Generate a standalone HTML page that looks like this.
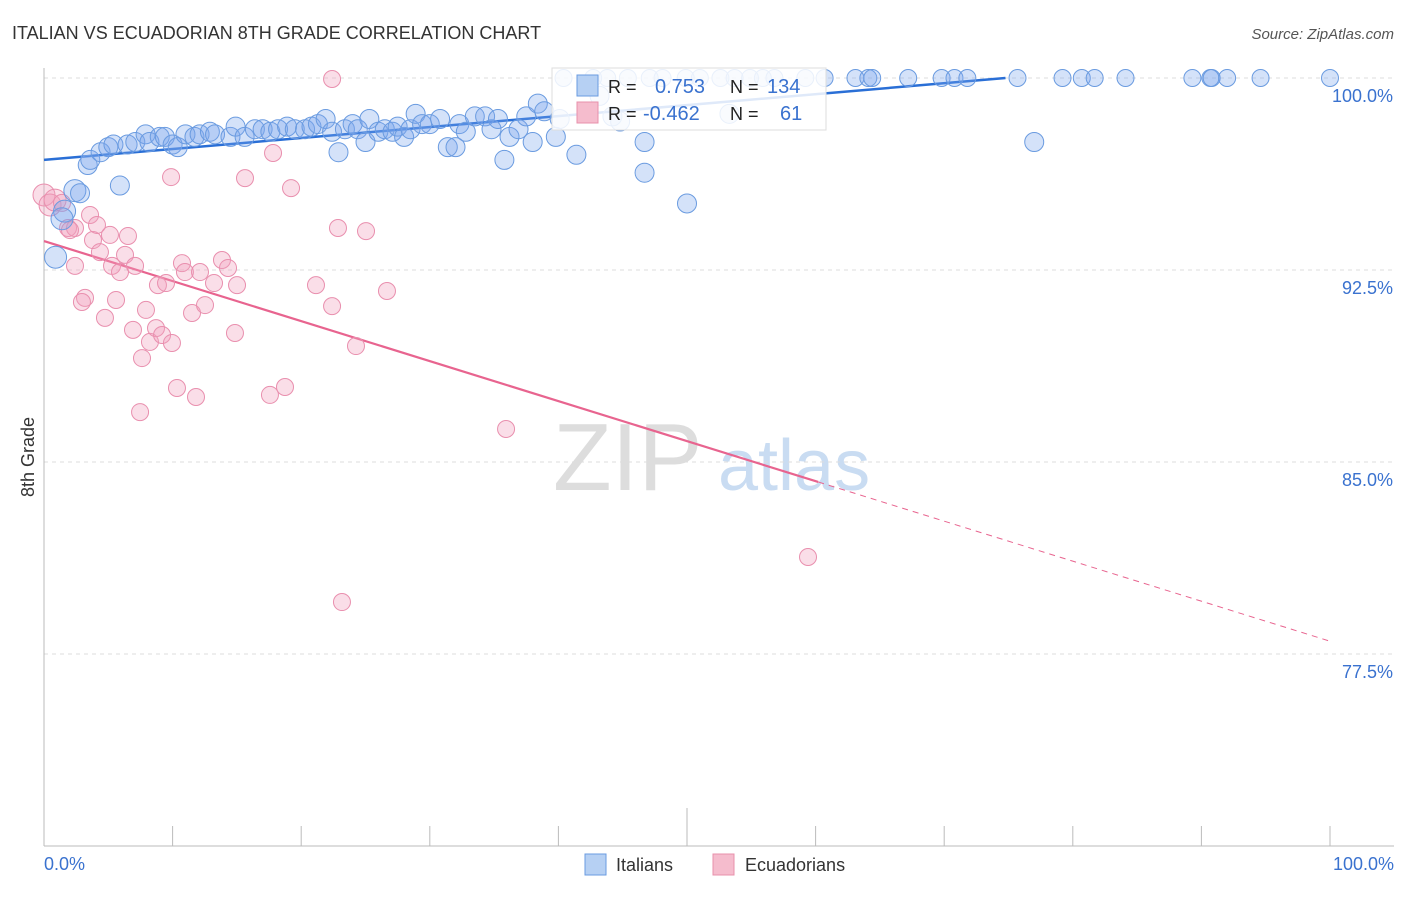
<!DOCTYPE html>
<html><head><meta charset="utf-8"><style>
body{margin:0;background:#fff;font-family:"Liberation Sans",sans-serif;}
svg text{font-family:"Liberation Sans",sans-serif;}
</style></head><body>
<svg id="c" width="1406" height="892">
<text x="12" y="39" font-size="18" fill="#333">ITALIAN VS ECUADORIAN 8TH GRADE CORRELATION CHART</text>
<text x="1394" y="39" font-size="15" fill="#555" text-anchor="end" font-style="italic">Source: ZipAtlas.com</text>
<text x="0" y="0" transform="translate(34,457) rotate(-90)" font-size="18" fill="#333" text-anchor="middle">8th Grade</text>
<g><text x="553" y="490" font-size="96" fill="#ddd" font-family="Liberation Serif,serif">ZIP</text><text x="718" y="490" font-size="72" fill="#c9dcf2">atlas</text></g>
<g id="grid"></g><g id="axes"></g><g id="trend"></g><g id="pts"></g>
<g>
<rect x="552" y="68" width="274" height="62" fill="#fff" fill-opacity="0.85" stroke="#ddd"/>
<rect x="577" y="75" width="21" height="21" fill="#b6d0f3" stroke="#6a9be0"/>
<rect x="577" y="102" width="21" height="21" fill="#f5bccd" stroke="#e890ab"/>
<text x="608" y="93" font-size="18" fill="#222">R =</text><text x="655" y="93" font-size="20" fill="#3a72cf">0.753</text>
<text x="730" y="93" font-size="18" fill="#222">N =</text><text x="767" y="93" font-size="20" fill="#3a72cf">134</text>
<text x="608" y="120" font-size="18" fill="#222">R =</text><text x="643" y="120" font-size="20" fill="#3a72cf">-0.462</text>
<text x="730" y="120" font-size="18" fill="#222">N =</text><text x="780" y="120" font-size="20" fill="#3a72cf">61</text>
</g>
<g><rect x="585" y="854" width="21" height="21" fill="#b6d0f3" stroke="#6a9be0"/><text x="616" y="871" font-size="18" fill="#333">Italians</text></g>
<g><rect x="713" y="854" width="21" height="21" fill="#f5bccd" stroke="#e890ab"/><text x="745" y="871" font-size="18" fill="#333">Ecuadorians</text></g>
</svg>
<script>
const blueX=[0.9,1.6,1.4,2.4,2.8,3.4,3.6,4.4,5.0,5.4,5.9,6.5,7.1,7.9,8.2,9.0,9.4,10.0,10.4,11.0,11.7,12.1,12.9,13.3,14.5,14.9,15.6,16.4,17.0,17.6,18.2,18.9,19.5,20.3,20.8,21.3,21.9,22.4,22.9,23.4,24.0,24.4,25.0,25.3,26.0,26.5,27.1,27.5,28.0,28.5,28.9,29.4,30.0,30.8,31.4,32.0,32.3,32.8,33.5,34.3,34.8,35.3,35.8,36.2,36.9,37.5,38.0,38.4,38.9,39.8,41.4,43.2,44.2,44.8,40.1,46.7,46.7,50.0,53.3,77.0,40.4,42.7,43.8,45.4,47.1,48.1,49.9,51.0,52.6,53.7,54.9,55.9,56.8,59.2,60.7,63.1,64.1,64.4,67.2,69.8,70.8,71.8,75.7,79.2,80.7,81.7,84.1,89.3,90.7,90.8,92.0,94.6,100];
const blueY=[93.0,94.8,94.5,95.6,95.5,96.6,96.8,97.1,97.3,97.4,95.8,97.4,97.5,97.8,97.5,97.7,97.7,97.4,97.3,97.8,97.7,97.8,97.9,97.8,97.7,98.1,97.7,98.0,98.0,97.9,98.0,98.1,98.0,98.0,98.1,98.2,98.4,97.9,97.1,98.0,98.2,98.0,97.5,98.4,97.9,98.0,97.9,98.1,97.7,98.0,98.6,98.2,98.2,98.4,97.3,97.3,98.2,97.9,98.5,98.5,98.0,98.4,96.8,97.7,98.0,98.5,97.5,99.0,98.7,97.7,97.0,99.3,98.5,98.3,98.4,97.5,96.3,95.1,98.6,97.5,100,100,100,100,100,100,100,100,100,100,100,100,100,100,100,100,100,100,100,100,100,100,100,100,100,100,100,100,100,100,100,100,100];
const pinkX=[0.0,0.47,0.86,1.40,1.87,2.41,2.41,3.19,2.95,3.58,3.81,4.12,4.35,4.74,5.13,5.29,5.60,5.91,6.30,6.53,6.92,7.08,7.47,7.62,7.93,8.24,8.71,8.86,9.18,9.49,9.95,9.88,10.34,10.73,10.96,11.51,11.82,12.13,12.52,13.22,13.84,14.31,14.85,15.01,15.63,17.57,17.81,18.74,19.21,21.15,22.40,22.40,22.86,23.17,24.26,25.04,26.67,35.93,59.41,2.02];
const pinkY=[95.43,95.04,95.23,95.12,94.14,94.14,92.66,91.41,91.25,94.65,93.67,94.26,93.20,90.63,93.87,92.66,91.33,92.42,93.09,93.83,90.16,92.66,86.95,89.06,90.94,89.69,90.23,91.91,89.96,91.99,89.65,96.13,87.89,92.77,92.42,90.82,87.54,92.42,91.13,91.99,92.89,92.58,90.04,91.91,96.09,87.62,97.07,87.93,95.70,91.91,99.96,91.09,94.14,79.53,89.53,94.02,91.68,86.29,81.29,94.06];
const yTicks=[100,92.5,85,77.5];
const yTickLabels=["100.0%","92.5%","85.0%","77.5%"];
const blueTrend=[96.8,0.0428];
const pinkTrend=[93.63,-0.1563,60.2];
const NS='http://www.w3.org/2000/svg';
const sx=v=>44+v*12.86, sy=v=>78+(100-v)*25.6;
function mk(p,tag,a){const e=document.createElementNS(NS,tag);for(const k in a)e.setAttribute(k,a[k]);document.getElementById(p).appendChild(e);return e;}
yTicks.forEach((t,i)=>{
 const g=mk('grid','line',{x1:44,x2:1394,y1:sy(t),y2:sy(t),stroke:'#ddd','stroke-dasharray':'4,4'});
 
 
 const tx=mk('grid','text',{x:1393,y:sy(t)+24,'text-anchor':'end','font-size':18,fill:'#3a72cf'});tx.textContent=yTickLabels[i];
 
 
});
mk('axes','line',{x1:44,x2:44,y1:68,y2:846,stroke:'#bbb'});
mk('axes','line',{x1:44,x2:1394,y1:846,y2:846,stroke:'#bbb'});
for(let i=0;i<=10;i++){const x=sx(i*10);mk('axes','line',{x1:x,x2:x,y1:i==5?808:826,y2:846,stroke:'#bbb'});}
const xl=mk('axes','text',{x:44,y:870,'font-size':18,fill:'#3a72cf'});xl.textContent='0.0%';


const xr=mk('axes','text',{x:1394,y:870,'font-size':18,fill:'#3a72cf','text-anchor':'end'});xr.textContent='100.0%';


pinkX.forEach((x,i)=>{const c=mk('pts','circle',{cx:sx(x),cy:sy(pinkY[i]),r:i<3?11:8.5,fill:'rgba(242,160,188,0.35)',stroke:'#e98fae','stroke-width':1});
 
 });
blueX.forEach((x,i)=>{const c=mk('pts','circle',{cx:sx(x),cy:sy(blueY[i]),r:i<4?11:(blueY[i]==100?8.5:9.5),fill:'rgba(120,165,235,0.32)',stroke:'#6a9be0','stroke-width':1});
 
 });
const xe=(100-blueTrend[0])/blueTrend[1];
const bt=mk('trend','line',{x1:sx(0),y1:sy(blueTrend[0]),x2:sx(xe),y2:sy(100),stroke:'#2a6fd6','stroke-width':2.5});


const pt=mk('trend','line',{x1:sx(0),y1:sy(pinkTrend[0]),x2:sx(pinkTrend[2]),y2:sy(pinkTrend[0]+pinkTrend[1]*pinkTrend[2]),stroke:'#e8648f','stroke-width':2.2});


const pd=mk('trend','line',{x1:sx(pinkTrend[2]),y1:sy(pinkTrend[0]+pinkTrend[1]*pinkTrend[2]),x2:sx(100),y2:sy(pinkTrend[0]+pinkTrend[1]*100),stroke:'#e8648f','stroke-width':1,'stroke-dasharray':'6,5'});


</script>
</body></html>
